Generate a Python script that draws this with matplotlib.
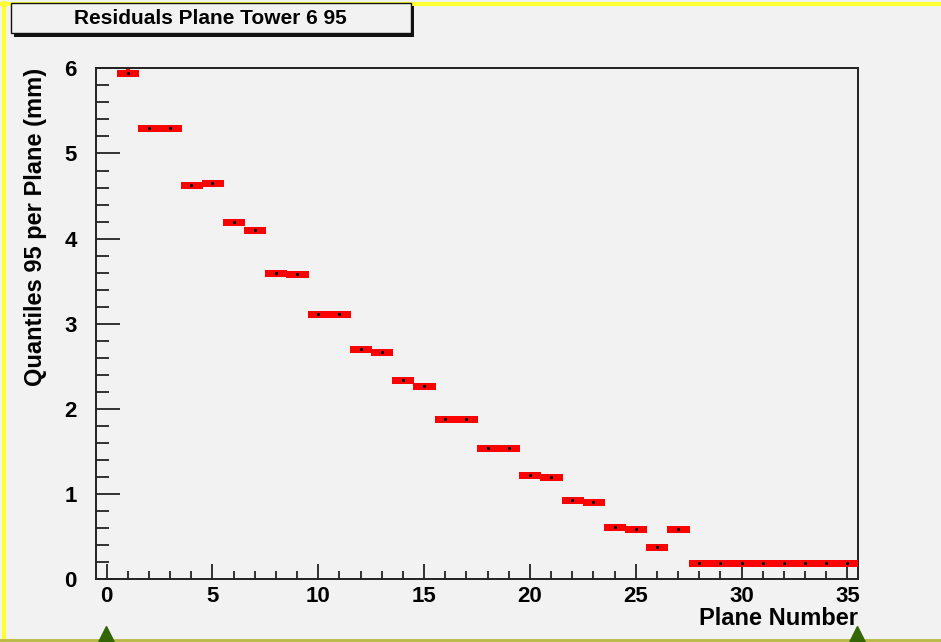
import matplotlib.pyplot as plt
from matplotlib.lines import Line2D
from matplotlib.patches import Rectangle
from matplotlib.ticker import MultipleLocator

# Quantile 95 of residuals per plane (bin centres 1..35)
planes = list(range(1, 36))
quantiles = [5.95, 5.30, 5.30, 4.63, 4.65, 4.19, 4.10, 3.60, 3.58, 3.12,
             3.12, 2.70, 2.67, 2.34, 2.27, 1.88, 1.88, 1.54, 1.54, 1.22,
             1.20, 0.93, 0.91, 0.61, 0.59, 0.38, 0.59, 0.19, 0.19, 0.19,
             0.19, 0.19, 0.19, 0.19, 0.19]
errors = [0.045, 0.03, 0.03, 0.03, 0.035, 0.035, 0.035, 0.02, 0.02, 0.02,
          0.02, 0.02, 0.02, 0.02, 0.02, 0.02, 0.02, 0.02, 0.02, 0.02,
          0.02, 0.02, 0.02, 0.02, 0.02, 0.02, 0.02, 0.01, 0.01, 0.01,
          0.01, 0.01, 0.01, 0.01, 0.01]

title = "Residuals Plane Tower 6 95"
x_label = "Plane Number"
y_label = "Quantiles 95 per Plane (mm)"

bg = "#f2f2f2"
plt.rcParams['font.family'] = ['Liberation Sans', 'DejaVu Sans']
plt.rcParams['font.weight'] = 'bold'

fig = plt.figure(figsize=(9.41, 6.42), dpi=100, facecolor=bg)
ax = fig.add_axes([0.102, 0.0977, 0.8098, 0.7959], facecolor=bg)

# histogram markers: bin-wide red bars with tiny error bars and a centre dot
ax.hlines(quantiles, [p - 0.5 for p in planes], [p + 0.5 for p in planes],
          colors='#ff0000', linewidth=3.8, capstyle='butt', antialiased=False,
          zorder=3)
ax.errorbar(planes, quantiles, yerr=errors, fmt='none',
            ecolor='#ff0000', elinewidth=3.0, capsize=0, zorder=3)
ax.plot(planes, quantiles, linestyle='none', marker='o', markersize=1.3,
        color='black', zorder=4)

ax.set_xlim(-0.5, 35.5)
ax.set_ylim(0, 6)

ax.xaxis.set_major_locator(MultipleLocator(5))
ax.xaxis.set_minor_locator(MultipleLocator(1))
ax.yaxis.set_major_locator(MultipleLocator(1))
ax.yaxis.set_minor_locator(MultipleLocator(0.2))

ax.tick_params(axis='both', which='both', direction='in', top=False, right=False,
               labelsize=16, width=1.3, color='#222222')
ax.tick_params(axis='x', which='major', length=11, pad=5)
ax.tick_params(axis='x', which='minor', length=6)
ax.tick_params(axis='y', which='major', length=17, pad=14)
ax.tick_params(axis='y', which='minor', length=9)
for lab in ax.get_xticklabels() + ax.get_yticklabels():
    lab.set_fontweight('bold')

for side in ['left', 'bottom', 'top', 'right']:
    ax.spines[side].set_linewidth(1.4)
    ax.spines[side].set_color('#222222')

ax.set_xlabel(x_label, fontsize=17, fontweight='bold', loc='right', labelpad=0)
ax.set_ylabel(y_label, fontsize=17, fontweight='bold', loc='top', labelpad=12)

# title box with drop shadow, ROOT style
shadow = Rectangle((0.0145, 1 - 0.057), 0.425, 0.048, transform=fig.transFigure,
                   facecolor='#111111', edgecolor='none', zorder=5)
box = Rectangle((0.0115, 1 - 0.052), 0.425, 0.048, transform=fig.transFigure,
                facecolor=bg, edgecolor='#111111', linewidth=1.0, zorder=6)
fig.add_artist(shadow)
fig.add_artist(box)
fig.text(0.224, 1 - 0.029, title, ha='center', va='center', fontsize=15,
         fontweight='bold', zorder=7)

# canvas decorations: yellow frame edges, olive bottom line, green markers
fig.add_artist(Line2D([0.004, 0.004], [0, 0.996], transform=fig.transFigure,
                      color='#ffff33', linewidth=3))
fig.add_artist(Line2D([0, 1], [0.993, 0.993], transform=fig.transFigure,
                      color='#ffff33', linewidth=3))
fig.add_artist(Line2D([0, 1], [0.003, 0.003], transform=fig.transFigure,
                      color='#b8b840', linewidth=2))
fig.add_artist(Line2D([106 / 941, 857 / 941], [0.013, 0.013], transform=fig.transFigure,
                      linestyle='none', marker='^', markersize=12, color='#336600'))

fig.savefig('out.png', dpi=100, facecolor=bg)
